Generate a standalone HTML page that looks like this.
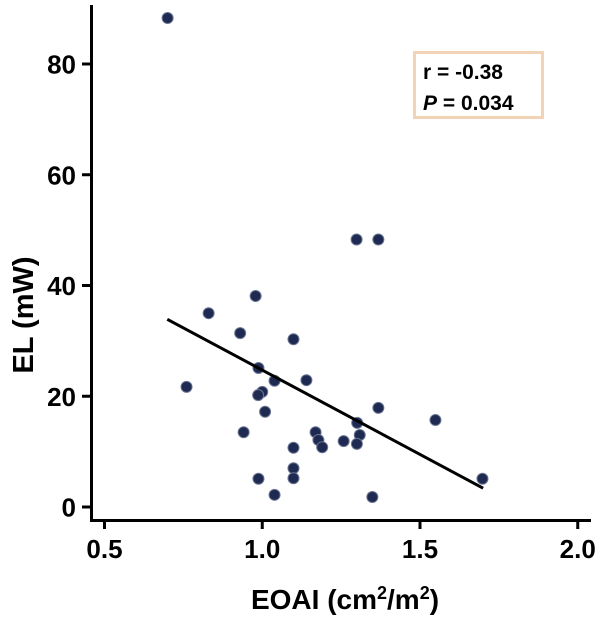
<!DOCTYPE html>
<html><head><meta charset="utf-8"><style>
html,body{margin:0;padding:0;background:#fff;}
svg text{font-family:"Liberation Sans",Arial,sans-serif;font-weight:bold;fill:#000;}
</style></head><body>
<svg id="chart" width="600" height="616" viewBox="0 0 600 616" xmlns="http://www.w3.org/2000/svg">
<g id="axes"></g>
<g id="marks"></g>
<g>
<rect x="414.5" y="52.5" width="128" height="65" fill="#fff" stroke="#f3d3b5" stroke-width="3"/>
<text x="423" y="79" font-size="21">r = -0.38</text>
<text x="423" y="110" font-size="21"><tspan font-style="italic">P</tspan> = 0.034</text>
</g>
<text x="345" y="609" font-size="28" text-anchor="middle">EOAI (cm<tspan font-size="18" dy="-10">2</tspan><tspan dy="10">/m</tspan><tspan font-size="18" dy="-10">2</tspan><tspan dy="10">)</tspan></text>
<text transform="translate(33,315) rotate(-90)" font-size="29" text-anchor="middle">EL (mW)</text>
</svg>
<script>
const xTicks = [0.5, 1.0, 1.5, 2.0];
const xTickLabels = ["0.5", "1.0", "1.5", "2.0"];
const yTicks = [0, 20, 40, 60, 80];
const yTickLabels = ["0", "20", "40", "60", "80"];
const xValues = [0.700,1.299,1.368,0.979,0.830,0.930,1.099,0.988,1.039,1.140,0.760,1.000,0.987,1.009,1.368,0.941,1.169,1.178,1.190,1.099,1.258,1.301,1.309,1.300,1.099,1.099,0.988,1.039,1.349,1.549,1.698];
const yValues = [88.3,48.3,48.3,38.1,35.0,31.4,30.3,25.1,22.8,22.9,21.7,20.8,20.2,17.2,17.9,13.5,13.5,12.1,10.8,10.7,11.9,15.2,13.0,11.4,7.0,5.2,5.1,2.2,1.8,15.7,5.1];
const fitX = [0.699, 1.70];
const fitY = [33.9, 3.4];

const NS = "http://www.w3.org/2000/svg";
function X(v){ return 104.5 + (v - 0.5) * 315.5; }
function Y(v){ return 507 - v * 5.5375; }
function mk(tag, attrs, parent){
  const e = document.createElementNS(NS, tag);
  for (const k in attrs) e.setAttribute(k, attrs[k]);
  parent.appendChild(e);
  return e;
}
const axes = document.getElementById('axes');
const marks = document.getElementById('marks');
const yAxis = mk('line', {x1:91.5, y1:5, x2:91.5, y2:522, stroke:'#000', 'stroke-width':3}, axes);


const xAxis = mk('line', {x1:90, y1:520.5, x2:591, y2:520.5, stroke:'#000', 'stroke-width':3}, axes);


yTicks.forEach((t, i) => {
  const tk = mk('line', {x1:82, y1:Y(t), x2:91, y2:Y(t), stroke:'#000', 'stroke-width':3}, axes);
  
  
  const lb = mk('text', {x:76, y:Y(t)+9.5, 'font-size':26, 'text-anchor':'end'}, axes);
  lb.textContent = yTickLabels[i];
  
  
});
xTicks.forEach((t, i) => {
  const tk = mk('line', {x1:X(t), y1:520, x2:X(t), y2:529, stroke:'#000', 'stroke-width':3}, axes);
  
  
  const lb = mk('text', {x:X(t), y:558, 'font-size':26, 'text-anchor':'middle'}, axes);
  lb.textContent = xTickLabels[i];
  
  
});
xValues.forEach((xv, i) => {
  const c = mk('circle', {cx:X(xv), cy:Y(yValues[i]), r:5.5, fill:'#1e2a52', stroke:'#6b7591', 'stroke-width':1}, marks);
  
  
});
const fl = mk('line', {x1:X(fitX[0]), y1:Y(fitY[0]), x2:X(fitX[1]), y2:Y(fitY[1]), stroke:'#000', 'stroke-width':3}, marks);


</script>
</body></html>
